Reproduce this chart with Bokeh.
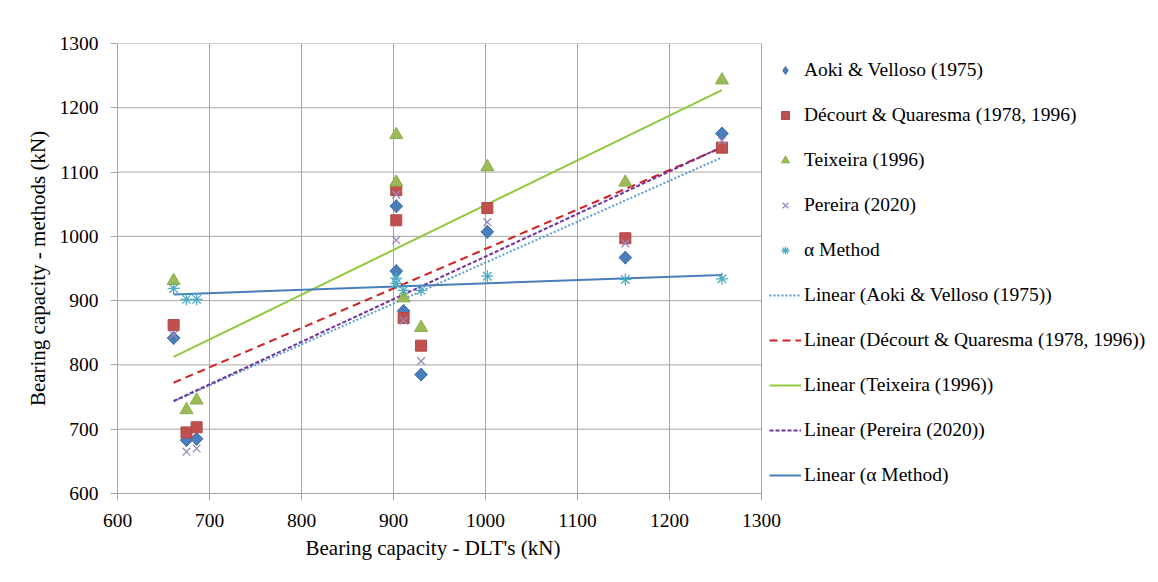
import numpy as np
from bokeh.plotting import figure
from bokeh.models import Legend, LegendItem, FixedTicker, Title
from bokeh.embed import file_html
from bokeh.resources import INLINE

# DLT bearing capacity (kN) for each pile
dlt = [661, 675, 686, 903, 903, 911, 930, 1002, 1152, 1257]

# Bearing capacity by method (kN)
aoki = [842, 683, 685, 1047, 946, 884, 785, 1007, 967, 1160]
decourt = [862, 695, 703, 1072, 1025, 873, 830, 1044, 997, 1138]
teixeira = [931, 730, 745, 1158, 1084, 904, 858, 1108, 1084, 1243]
pereira = [847, 665, 670, 1065, 994, 869, 806, 1022, 989, 1149]
alpha = [919, 902, 902, 935, 927, 916, 916, 938, 933, 934]

names = ["Aoki & Velloso (1975)", "Décourt & Quaresma (1978, 1996)",
         "Teixeira (1996)", "Pereira (2020)", "α Method"]

x_ticks = [600, 700, 800, 900, 1000, 1100, 1200, 1300]
y_ticks = [600, 700, 800, 900, 1000, 1100, 1200, 1300]

x_title = "Bearing capacity - DLT's (kN)"
y_title = "Bearing capacity - methods (kN)"

FONT = "Liberation Serif"
W, H = 1158, 582
LEFT, TOP, BOTTOM = 117, 43, 89
PLOT_W = 644          # pixel width of the 600..1300 axis span
XMIN, XMAX = 600, 1300
# the frame extends to the right edge so the legend can sit beside the axes
x_end = XMIN + (XMAX - XMIN) * (W - LEFT) / PLOT_W

p = figure(width=W, height=H, x_range=(XMIN, x_end), y_range=(600, 1300),
           output_backend="svg", toolbar_location=None,
           min_border_left=LEFT, min_border_right=0,
           min_border_top=TOP, min_border_bottom=BOTTOM)
p.background_fill_color = "white"
p.border_fill_color = "white"
p.outline_line_color = None

for ax in (p.xaxis, p.yaxis):
    ax.axis_line_color = "#a6a6a6"
    ax.major_tick_line_color = "#a6a6a6"
    ax.major_tick_out = 7
    ax.major_tick_in = 0
    ax.minor_tick_line_color = None
    ax.major_label_text_font = FONT
    ax.major_label_text_font_size = "19.5px"
    ax.major_label_text_color = "#000000"
    ax.axis_label_text_font = FONT
    ax.axis_label_text_font_size = "21px"
    ax.axis_label_text_font_style = "normal"
    ax.axis_label_text_color = "#000000"

p.xaxis.bounds = (XMIN, XMAX)
p.xaxis.ticker = FixedTicker(ticks=x_ticks)
p.yaxis.ticker = FixedTicker(ticks=y_ticks)
p.xaxis.major_label_standoff = 13
p.yaxis.major_label_standoff = 12
p.yaxis.axis_label = y_title
p.yaxis.axis_label_standoff = 7

# x title centred under the 600..1300 span
p.add_layout(Title(text=x_title, align="left", offset=188,
                   text_font=FONT, text_font_size="21px",
                   text_font_style="normal", text_color="#000000",
                   standoff=9), "below")

p.xgrid.grid_line_color = "#a6a6a6"
p.xgrid.ticker = FixedTicker(ticks=x_ticks)
p.ygrid.visible = False
# horizontal grid lines only across the 600..1300 span
p.segment(x0=[XMIN] * len(y_ticks), x1=[XMAX] * len(y_ticks), y0=y_ticks, y1=y_ticks,
          line_color="#a6a6a6", line_width=1)

# trend lines (least squares, like spreadsheet "Linear" trendlines)
x = np.array(dlt, dtype=float)
xs = np.array([x.min(), x.max()])
series = [aoki, decourt, teixeira, pereira, alpha]
line_styles = [
    dict(color="#5b9bd5", dash="2 2", width=2),
    dict(color="#d42020", dash="8 5", width=2),
    dict(color="#92c83e", dash="solid", width=2),
    dict(color="#7030a0", dash="4 2", width=2),
    dict(color="#4a7ebb", dash="solid", width=2),
]
line_renderers = []
for ys, st in zip(series, line_styles):
    k, b = np.polyfit(x, np.array(ys, dtype=float), 1)
    r = p.line(xs, k * xs + b, line_color=st["color"], line_dash=st["dash"],
               line_width=st["width"])
    line_renderers.append(r)

# scatter markers
# diamond renderer (used for the legend swatch), covered by a rotated square
r_aoki = p.scatter(dlt, aoki, marker="diamond", size=13,
                   fill_color="#4a7ebb", line_color="#3f6fa8", line_width=1)
p.scatter(dlt, aoki, marker="square", angle=np.pi / 4, size=9,
          fill_color="#4a7ebb", line_color="#3f6fa8", line_width=1)
r_dec = p.scatter(dlt, decourt, marker="square", size=11, fill_color="#c0504d",
                  line_color="#b04845", line_width=1)
r_tei = p.scatter(dlt, teixeira, marker="triangle", size=13, fill_color="#9bbb59",
                  line_color="#8aab4a", line_width=1)
r_per = p.scatter(dlt, pereira, marker="x", size=11, line_color="#9b86c0",
                  line_width=1.3)
r_alp = p.scatter(dlt, alpha, marker="asterisk", size=12, line_color="#4bacc6",
                  line_width=1.3)
marker_renderers = [r_aoki, r_dec, r_tei, r_per, r_alp]

items = [LegendItem(label=n, renderers=[r]) for n, r in zip(names, marker_renderers)]
items += [LegendItem(label="Linear (" + n + ")", renderers=[r])
          for n, r in zip(names, line_renderers)]

legend = Legend(items=items, location=(PLOT_W + 8, 7),
                label_text_font=FONT, label_text_font_size="19.5px",
                label_text_color="#000000",
                glyph_width=32, glyph_height=20, label_height=20,
                spacing=23, padding=9, margin=0, label_standoff=3,
                border_line_color=None, background_fill_alpha=0)
p.add_layout(legend, "center")

open("out.html", "w").write(file_html(p, INLINE))
